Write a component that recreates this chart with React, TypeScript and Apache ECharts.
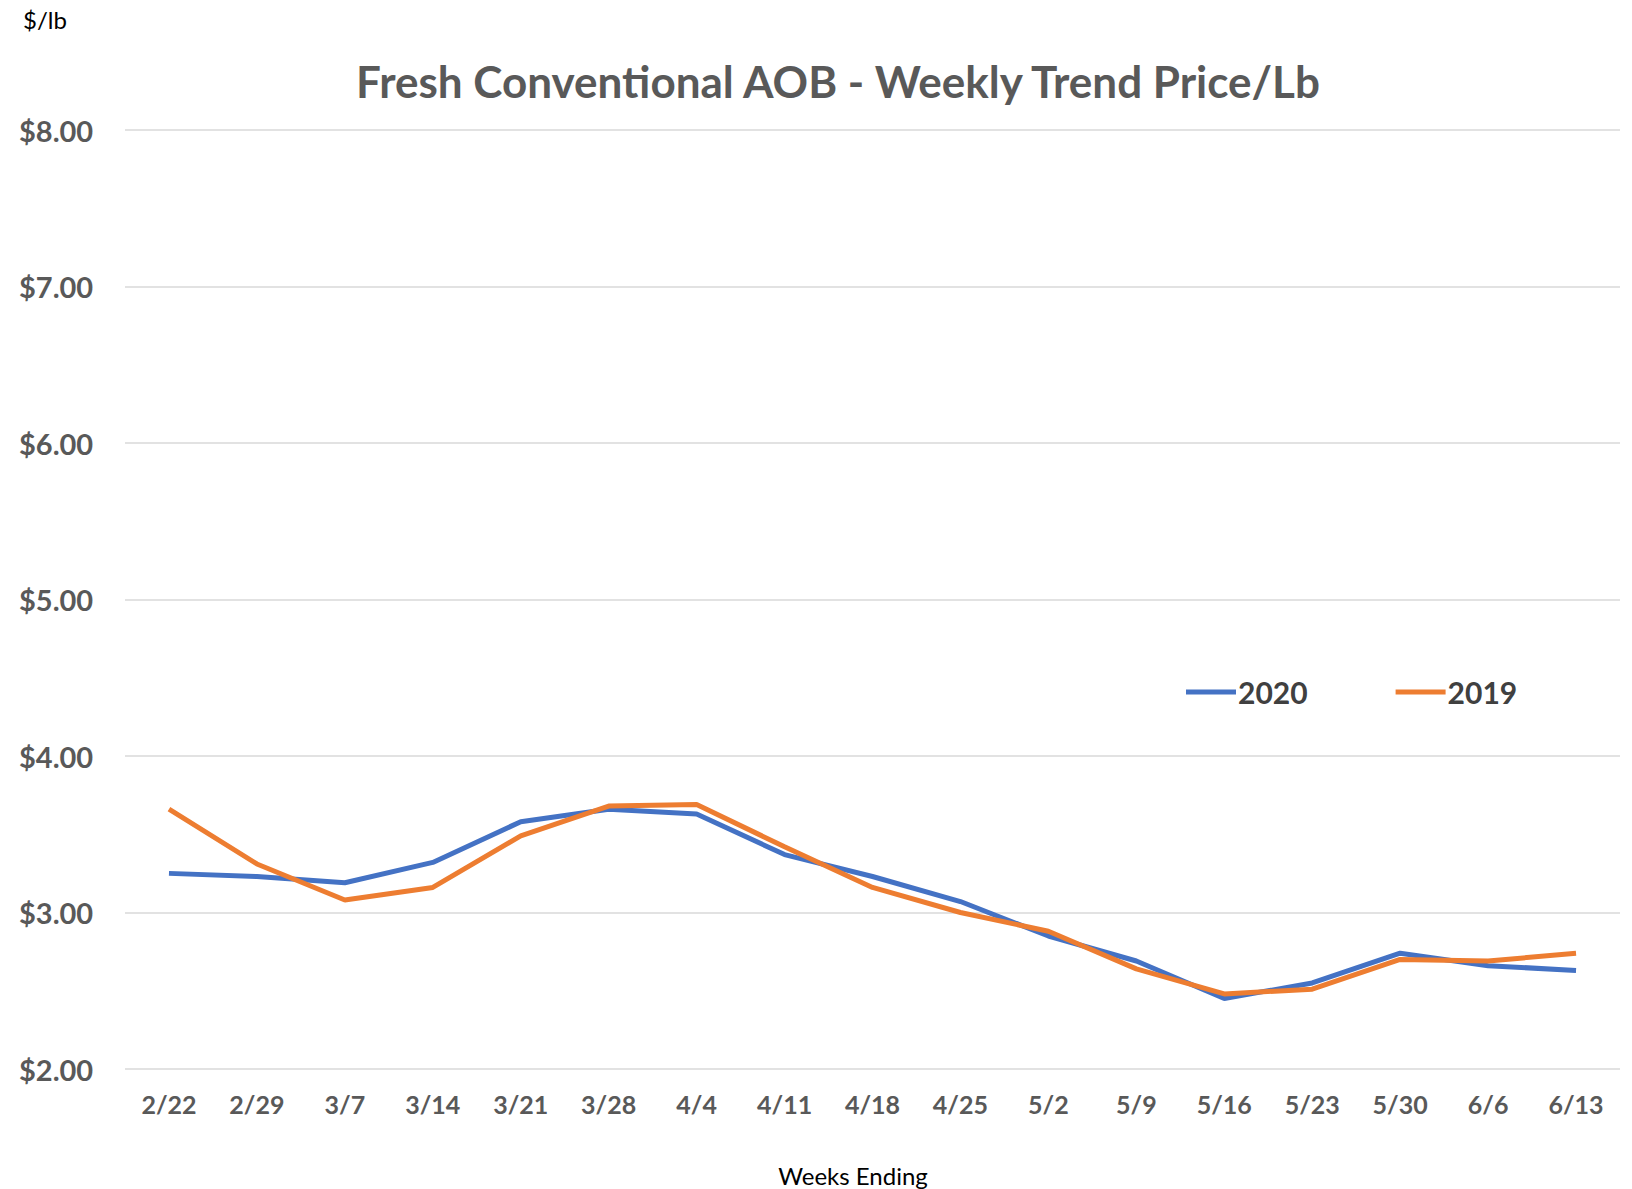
import React, { useEffect, useRef } from "react";
import * as echarts from "echarts";

const weeks = ["2/22", "2/29", "3/7", "3/14", "3/21", "3/28", "4/4", "4/11", "4/18", "4/25", "5/2", "5/9", "5/16", "5/23", "5/30", "6/6", "6/13"];
const values2020 = [3.25, 3.23, 3.19, 3.32, 3.58, 3.66, 3.63, 3.37, 3.23, 3.07, 2.85, 2.69, 2.45, 2.55, 2.74, 2.66, 2.63];
const values2019 = [3.66, 3.31, 3.08, 3.16, 3.49, 3.68, 3.69, 3.42, 3.16, 3.0, 2.88, 2.64, 2.48, 2.51, 2.7, 2.69, 2.74];
const yTicks = [2, 3, 4, 5, 6, 7, 8];

const FONT = "Lato, 'Open Sans', sans-serif";

export default function App() {
  const ref = useRef<HTMLDivElement>(null);
  useEffect(() => {
    document.body.style.margin = "0";
    if (!ref.current) return;
    const chart = echarts.init(ref.current, null, { renderer: "svg" });
    chart.setOption({
      animation: false,
      backgroundColor: "#ffffff",
      graphic: [
        {
          type: "text",
          x: 838,
          y: 81,
          style: {
            text: "Fresh Conventional AOB - Weekly Trend Price/Lb",
            font: `bold 44px ${FONT}`,
            fill: "#595959",
            textAlign: "center",
            textVerticalAlign: "middle",
          },
        },
        {
          type: "text",
          x: 23,
          y: 19,
          style: {
            text: "$/lb",
            font: `24px ${FONT}`,
            fill: "#000000",
            textAlign: "left",
            textVerticalAlign: "middle",
          },
        },
        {
          type: "text",
          x: 853,
          y: 1175,
          style: {
            text: "Weeks Ending",
            font: `24px ${FONT}`,
            fill: "#000000",
            textAlign: "center",
            textVerticalAlign: "middle",
          },
        },
      ],
      legend: {
        left: 1181,
        top: 672,
        itemWidth: 50,
        itemHeight: 5,
        itemGap: 88,
        icon: "rect",
        textStyle: { fontFamily: FONT, fontWeight: "bold", fontSize: 30, color: "#404040", padding: [0, 0, 0, -3] },
        data: ["2020", "2019"],
      },
      grid: { left: 125, right: 12, top: 130, bottom: 120, containLabel: false },
      xAxis: {
        type: "category",
        data: weeks,
        boundaryGap: true,
        axisLine: { show: false },
        axisTick: { show: false },
        axisLabel: { fontFamily: FONT, fontWeight: "bold", fontSize: 25, color: "#595959", margin: 22 },
      },
      yAxis: {
        type: "value",
        min: yTicks[0],
        max: yTicks[yTicks.length - 1],
        interval: 1,
        axisLine: { show: false },
        axisTick: { show: false },
        splitLine: { lineStyle: { color: "#d9d9d9", width: 1.5 } },
        axisLabel: {
          fontFamily: FONT,
          fontWeight: "bold",
          fontSize: 29,
          color: "#595959",
          align: "left",
          margin: 106,
          formatter: (v: number) => "$" + v.toFixed(2),
        },
      },
      series: [
        {
          name: "2020",
          type: "line",
          data: values2020,
          symbol: "none",
          lineStyle: { color: "#4472C4", width: 5 },
          itemStyle: { color: "#4472C4" },
          z: 2,
        },
        {
          name: "2019",
          type: "line",
          data: values2019,
          symbol: "none",
          lineStyle: { color: "#ED7D31", width: 5 },
          itemStyle: { color: "#ED7D31" },
          z: 3,
        },
      ],
    });
    return () => chart.dispose();
  }, []);
  return <div ref={ref} style={{ width: 1632, height: 1189 }} />;
}
